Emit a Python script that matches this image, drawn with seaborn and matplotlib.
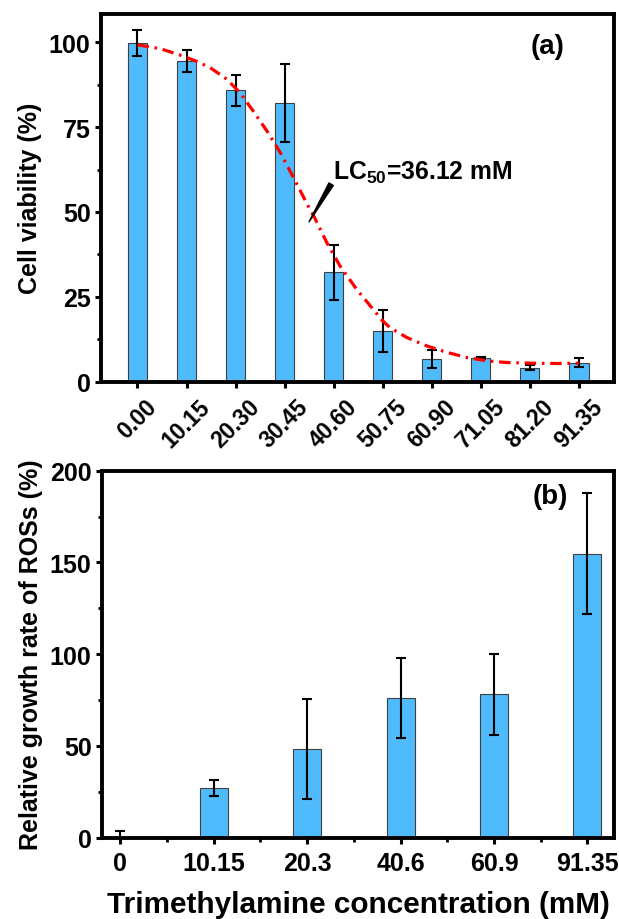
import numpy as np
import pandas as pd
import matplotlib
matplotlib.use("Agg")
import matplotlib.pyplot as plt
import seaborn as sns
from matplotlib.ticker import MultipleLocator

# ---------------- data ----------------
conc_a_labels = ["0.00", "10.15", "20.30", "30.45", "40.60",
                 "50.75", "60.90", "71.05", "81.20", "91.35"]
viability = [99.9, 94.6, 85.9, 82.1, 32.2, 14.9, 6.6, 6.9, 4.1, 5.6]
viability_err = [3.8, 3.2, 4.6, 11.6, 8.1, 6.1, 2.6, 0.4, 0.85, 1.4]

# fitted dose-response curve
curve_conc = [0.00, 4.67, 9.44, 12.28, 15.02, 18.47, 21.21, 23.95, 26.80,
              29.54, 32.28, 35.32, 36.44, 39.18, 41.92, 45.37, 50.75, 52.27,
              55.72, 59.89, 64.05, 68.11, 72.27, 76.43, 81.91, 87.39, 91.35]
curve_viability = [99.3, 98.2, 96.0, 94.4, 92.6, 89.2, 85.2, 79.8, 73.9,
                   67.6, 60.2, 51.8, 49.0, 41.0, 34.1, 27.2, 17.9, 15.9,
                   13.0, 10.5, 8.6, 7.1, 6.1, 5.6, 5.4, 5.3, 5.4]
conc_step = 10.15

ros_labels = ["0", "10.15", "20.3", "40.6", "60.9", "91.35"]
ros = [0.0, 27.0, 48.3, 76.1, 78.0, 154.8]
ros_err = [3.5, 4.3, 27.1, 21.8, 22.0, 33.0]

lc50_text = r"LC$_{50}$=36.12 mM"

# ---------------- style ----------------
sns.set_theme(style="ticks")
plt.rcParams.update({
    "font.family": ["Liberation Sans", "DejaVu Sans"],
    "font.weight": "bold",
    "axes.labelweight": "bold",
    "text.color": "black",
    "axes.labelcolor": "black",
    "xtick.color": "black",
    "ytick.color": "black",
    "xtick.labelcolor": "black",
    "ytick.labelcolor": "black",
    "axes.edgecolor": "black",
    "mathtext.fontset": "custom",
    "mathtext.rm": "Liberation Sans:bold",
    "mathtext.bf": "Liberation Sans:bold",
    "mathtext.it": "Liberation Sans:bold",
    "mathtext.default": "bf",
})

BAR = "#4FBBFD"
EDGE = "#404040"
SPINE_LW = 2.8

W, H = 619, 920
fig = plt.figure(figsize=(W / 100, H / 100), dpi=100)
ax_a = fig.add_axes([101 / W, 1 - 382.5 / H, 513 / W, 367.5 / H])
ax_b = fig.add_axes([102 / W, 1 - 838.5 / H, 512 / W, 366.8 / H])


def style_axes(ax):
    for s in ax.spines.values():
        s.set_linewidth(SPINE_LW)
        s.set_color("black")
        s.set_visible(True)
    ax.tick_params(axis="both", which="major", direction="out", length=4.5,
                   width=2.2, color="black", labelcolor="black", pad=3)
    ax.tick_params(axis="both", which="minor", direction="out", length=3,
                   width=2.0, color="black")
    ax.tick_params(top=False, right=False, which="both")


# ---------------- panel (a) ----------------
df_a = pd.DataFrame({"conc": conc_a_labels, "viability": viability})
sns.barplot(data=df_a, x="conc", y="viability", order=conc_a_labels,
            color=BAR, saturation=1, width=0.4, edgecolor=EDGE,
            linewidth=0.8, ax=ax_a, zorder=2)
xa = np.arange(len(conc_a_labels))
ax_a.errorbar(xa, viability, yerr=viability_err, fmt="none", ecolor="black",
              elinewidth=1.5, capsize=3.3, capthick=1.5, zorder=3)
ax_a.plot(np.array(curve_conc) / conc_step, curve_viability, color="#FF0000",
          lw=2.3, dashes=(3.6, 1.8, 0.8, 1.8), zorder=4)

ax_a.set_xlim(-0.744, 9.72)
ax_a.set_ylim(0, 108.4)
ax_a.yaxis.set_major_locator(MultipleLocator(25))
ax_a.yaxis.set_minor_locator(MultipleLocator(12.5))
style_axes(ax_a)
ax_a.set_xticks(xa)
ax_a.set_xticklabels(conc_a_labels, rotation=45, ha="center",
                     fontsize=16.5, fontweight="bold", color="black")
ax_a.tick_params(axis="x", pad=5)
for t in ax_a.get_yticklabels():
    t.set_fontsize(18)
    t.set_fontweight("bold")
ax_a.set_xlabel("")
ax_a.set_ylabel("Cell viability (%)", fontsize=18, fontweight="bold",
                labelpad=5, color="black")
ax_a.text(0.871, 0.913, "(a)", transform=ax_a.transAxes, fontsize=20,
          fontweight="bold", ha="center", va="center", color="black")
ax_a.annotate("", xy=(3.50, 47.1), xytext=(3.95, 58.2),
              arrowprops=dict(arrowstyle="wedge,tail_width=0.3",
                              color="black", shrinkA=0, shrinkB=0),
              zorder=5)
ax_a.text(3.99, 59.7, lc50_text, fontsize=17.8, fontweight="bold",
          ha="left", va="baseline", zorder=5, color="black")

# ---------------- panel (b) ----------------
df_b = pd.DataFrame({"conc": ros_labels, "ros": ros})
sns.barplot(data=df_b, x="conc", y="ros", order=ros_labels,
            color=BAR, saturation=1, width=0.3, edgecolor=EDGE,
            linewidth=0.8, ax=ax_b, zorder=2)
xb = np.arange(len(ros_labels))
ax_b.errorbar(xb, ros, yerr=ros_err, fmt="none", ecolor="black",
              elinewidth=1.5, capsize=3.3, capthick=1.5, zorder=3)
ax_b.set_xlim(-0.196, 5.284)
ax_b.set_ylim(0, 200)
ax_b.yaxis.set_major_locator(MultipleLocator(50))
ax_b.yaxis.set_minor_locator(MultipleLocator(25))
ax_b.xaxis.set_minor_locator(MultipleLocator(0.5))
style_axes(ax_b)
ax_b.set_xticks(xb)
ax_b.set_xticklabels(ros_labels, fontsize=18, fontweight="bold",
                     color="black")
ax_b.tick_params(axis="x", pad=5)
for t in ax_b.get_yticklabels():
    t.set_fontsize(18)
    t.set_fontweight("bold")
ax_b.set_ylabel("Relative growth rate of ROSs (%)", fontsize=18,
                fontweight="bold", labelpad=5, color="black")
ax_b.set_xlabel("Trimethylamine concentration (mM)", fontsize=21.4,
                fontweight="bold", labelpad=11, color="black")
ax_b.text(0.875, 0.931, "(b)", transform=ax_b.transAxes, fontsize=20,
          fontweight="bold", ha="center", va="center", color="black")

fig.savefig("out.png", dpi=100)
